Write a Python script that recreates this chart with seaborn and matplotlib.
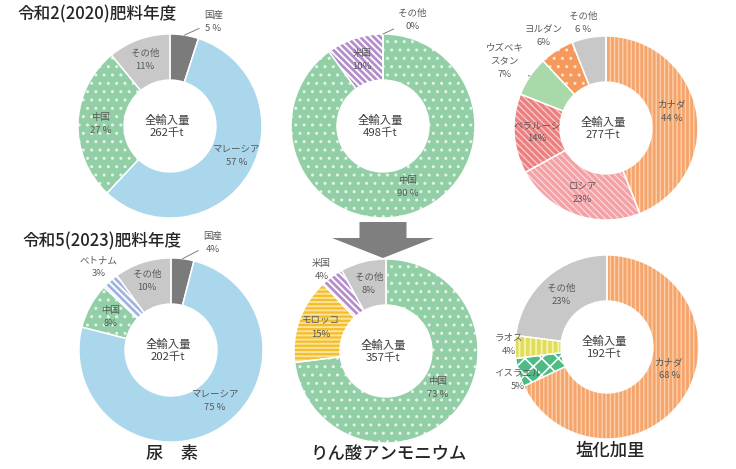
import numpy as np
import matplotlib
matplotlib.use('Agg')
import matplotlib.pyplot as plt
import seaborn as sns
from matplotlib.patches import FancyArrow

# 尿素
urea20_names = ['国産', 'マレーシア', '中国', 'その他']
urea20_values = [5, 57, 27, 11]
urea20_pct = ['5 %', '57 %', '27 %', '11%']
urea20_total = 262

urea23_names = ['国産', 'マレーシア', '中国', 'ベトナム', 'その他']
urea23_values = [4, 75, 8, 3, 10]
urea23_pct = ['4%', '75 %', '8%', '3%', '10%']
urea23_total = 202

# りん酸アンモニウム
dap20_names = ['中国', '米国', 'その他']
dap20_values = [90, 10, 0]
dap20_pct = ['90 %', '10%', '0%']
dap20_total = 498

dap23_names = ['中国', 'モロッコ', '米国', 'その他']
dap23_values = [73, 15, 4, 8]
dap23_pct = ['73 %', '15%', '4%', '8%']
dap23_total = 357

# 塩化加里
kcl20_names = ['カナダ', 'ロシア', 'ベラルーシ', 'ウズベキ\nスタン', 'ヨルダン', 'その他']
kcl20_values = [44, 23, 14, 7, 6, 6]
kcl20_pct = ['44 %', '23%', '14%', '7%', '6%', '6 %']
kcl20_total = 277

kcl23_names = ['カナダ', 'イスラエル', 'ラオス', 'その他']
kcl23_values = [68, 5, 4, 23]
kcl23_pct = ['68 %', '5%', '4%', '23%']
kcl23_total = 192

# colour, hatch, hatch colour, hatch width
styles = {
    '国産': ('#7b7b7b', None, None, 0),
    'マレーシア': ('#abd7ec', None, None, 0),
    '中国': ('#93cfa6', '..', '#e4f4e8', 1.0),
    'その他': ('#c8c8c8', None, None, 0),
    'ベトナム': ('#9fb2e2', '\\' * 5, 'white', 1.4),
    '米国': ('#b48ccc', '\\' * 5, 'white', 1.4),
    'モロッコ': ('#f4bd2c', '----', '#fbe39a', 1.4),
    'カナダ': ('#f5a46c', '||||', '#fbd0ab', 1.0),
    'ロシア': ('#f3a0a6', '\\' * 5, '#fbd6d8', 1.0),
    'ベラルーシ': ('#ec8080', '\\' * 5, '#f8c8c8', 1.0),
    'ウズベキ\nスタン': ('#a8d9a9', None, None, 0),
    'ヨルダン': ('#f5995c', '..', '#fde3d0', 1.0),
    'イスラエル': ('#4dbb84', 'xx', 'white', 1.2),
    'ラオス': ('#e2dc5c', '|||', '#f5f2a8', 1.4),
}

sns.set_theme(style='white')
plt.rcParams['font.family'] = ['Noto Sans CJK JP', 'DejaVu Sans']
plt.rcParams['hatch.linewidth'] = 1.0

W, H = 736, 469
R = 92
L = 1.5
fig = plt.figure(figsize=(W / 100, H / 100), dpi=100)
fig.patch.set_facecolor('white')

label_col = '#595959'


def draw_donut(names, values, pct, total, cx, cy, overrides, leaders):
    S = 2 * L * R
    ax = fig.add_axes([(cx - S / 2) / W, (H - cy - S / 2) / H, S / W, S / H])
    wedges, _ = ax.pie(values, startangle=90, counterclock=False, radius=1,
                       wedgeprops=dict(width=0.5, linewidth=0))
    for w, n in zip(wedges, names):
        col, hatch, hcol, hlw = styles[n]
        w.set_facecolor(col)
        if hatch:
            w.set_hatch(hatch)
            w.set_edgecolor(hcol)
            if hasattr(w, 'set_hatchcolor'):
                w.set_hatchcolor(hcol)
            if hasattr(w, 'set_hatch_linewidth'):
                w.set_hatch_linewidth(hlw)
    # white separators
    ax.pie(values, startangle=90, counterclock=False, radius=1,
           wedgeprops=dict(width=0.5, facecolor='none', edgecolor='white', linewidth=1.0))
    ax.set_xlim(-L, L)
    ax.set_ylim(-L, L)
    ax.axis('off')

    cum = np.cumsum([0] + values)
    tot = sum(values)
    for i, (n, p) in enumerate(zip(names, pct)):
        mid = (cum[i] + cum[i + 1]) / 2 / tot
        ang = np.deg2rad(90 - mid * 360)
        if i in overrides:
            tx, ty = overrides[i]
        else:
            tx, ty = 0.75 * np.cos(ang), 0.75 * np.sin(ang)
        txt = n + '\n' + p
        if i in leaders:
            ax.annotate(txt, xy=(np.cos(ang), np.sin(ang)), xytext=(tx, ty),
                        ha='center', va='center', fontsize=6.8, color=label_col,
                        linespacing=1.6, annotation_clip=False,
                        arrowprops=dict(arrowstyle='-', color='#7f7f7f', lw=0.7,
                                        shrinkA=1, shrinkB=0))
        else:
            ax.text(tx, ty, txt, ha='center', va='center', fontsize=6.8,
                    color=label_col, linespacing=1.6, clip_on=False)
    ax.text(-0.03, 0.0, f'全輸入量\n{total}千t', ha='center', va='center',
            fontsize=8.2, color='#404040', linespacing=1.2)
    return ax


draw_donut(urea20_names, urea20_values, urea20_pct, urea20_total, 170, 126,
           {0: (0.47, 1.13), 1: (0.72, -0.32), 3: (-0.27, 0.72)}, [0])
draw_donut(dap20_names, dap20_values, dap20_pct, dap20_total, 383, 126,
           {0: (0.27, -0.66), 2: (0.32, 1.15)}, [2])
draw_donut(kcl20_names, kcl20_values, kcl20_pct, kcl20_total, 606, 128,
           {0: (0.72, 0.18), 3: (-1.10, 0.72), 4: (-0.68, 1.0), 5: (-0.25, 1.14)}, [3])
draw_donut(urea23_names, urea23_values, urea23_pct, urea23_total, 171, 350,
           {0: (0.45, 1.16), 1: (0.48, -0.55), 3: (-0.79, 0.90), 4: (-0.26, 0.75)}, [0])
draw_donut(dap23_names, dap23_values, dap23_pct, dap23_total, 386, 351,
           {0: (0.56, -0.40), 2: (-0.70, 0.88)}, [])
draw_donut(kcl23_names, kcl23_values, kcl23_pct, kcl23_total, 607, 347,
           {0: (0.68, -0.24), 1: (-0.97, -0.36), 2: (-1.07, 0.02)}, [])

# overlay in pixel coordinates for titles and arrow
ov = fig.add_axes([0, 0, 1, 1])
ov.set_xlim(0, W)
ov.set_ylim(H, 0)
ov.axis('off')
ov.patch.set_alpha(0)

ov.text(17, 14, '令和2(2020)肥料年度', ha='left', va='center', fontsize=12,
        fontweight='medium', color='#262626')
ov.text(22, 241, '令和5(2023)肥料年度', ha='left', va='center', fontsize=12,
        fontweight='medium', color='#262626')
ov.add_patch(FancyArrow(383, 222, 0, 36, width=47, head_width=102, head_length=20,
                        length_includes_head=True, color='#7f7f7f', lw=0))

for x, y, s in [(172, 454, '尿　素'), (389, 454, 'りん酸アンモニウム'), (610, 451, '塩化加里')]:
    ov.text(x, y, s, ha='center', va='center', fontsize=12.5, fontweight='medium',
            color='#262626')

fig.savefig('out.png', dpi=100)
